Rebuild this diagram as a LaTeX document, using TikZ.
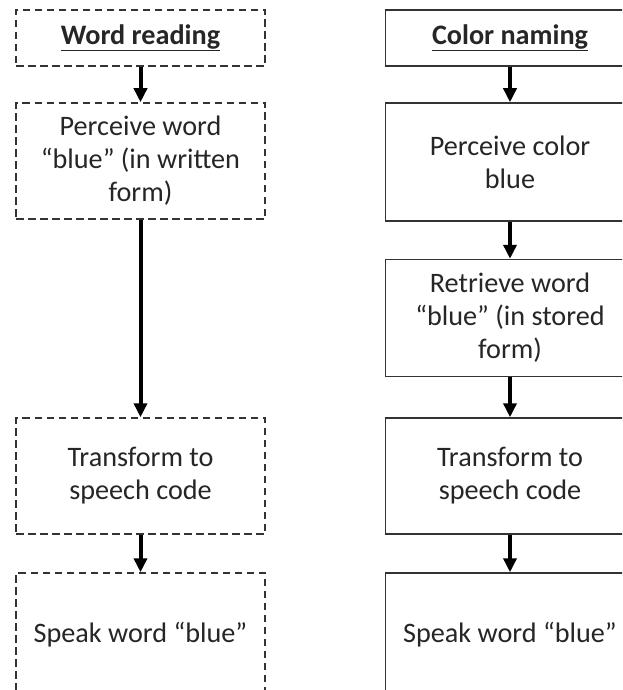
\documentclass[tikz,border=0pt]{standalone}
\usepackage{fontspec}
\setmainfont{Carlito}
\usetikzlibrary{arrows.meta}
\tikzset{
    every node/.style={font=\fontsize{28.2}{33}\selectfont, text=black!85,
        align=center, minimum width=249pt, inner sep=0pt},
    procbox/.style={draw=black!80, line width=1.5pt},
    wordbox/.style={procbox, dash pattern=on 7.5pt off 4.5pt},
    colorbox/.style={procbox},
    flow/.style={line width=4pt, -{Triangle[width=13pt,length=14pt]}}
}

\begin{document}
\begin{tikzpicture}[x=1pt, y=-1pt]
	\useasboundingbox[fill=white] (0,0) rectangle (622,690);
	\clip (0,0) rectangle (622,690);
	% word reading
	\node (w1) [wordbox, minimum height=56pt] at (140.5, 38) {\underline{\textbf{Word reading}}};
	\node (w2) [wordbox, minimum height=116pt] at (140.5, 161) {Perceive word\\``blue'' (in written\\form)};
	\node (w3) [wordbox, minimum height=116pt] at (140.5, 476) {Transform to\\speech code};
	\node (w4) [wordbox, minimum height=124pt] at (140.5, 635) {Speak word ``blue''};
	% color naming
	\node (c1) [colorbox, minimum height=56pt] at (510, 38) {\underline{\textbf{Color naming}}};
	\node (c2) [colorbox, minimum height=118pt] at (510, 162) {Perceive color\\blue};
	\node (c3) [colorbox, minimum height=117pt] at (510, 318) {Retrieve word\\``blue'' (in stored\\form)};
	\node (c4) [colorbox, minimum height=116pt] at (510, 476) {Transform to\\speech code};
	\node (c5) [colorbox, minimum height=124pt] at (510, 635) {Speak word ``blue''};

	\draw[flow] (w1) edge (w2); \draw[flow] (w2) edge (w3); \draw[flow] (w3) edge (w4);
	\draw[flow] (c1) edge (c2); \draw[flow] (c2) edge (c3);
	\draw[flow] (c3) edge (c4); \draw[flow] (c4) edge (c5);
\end{tikzpicture}
\end{document}
